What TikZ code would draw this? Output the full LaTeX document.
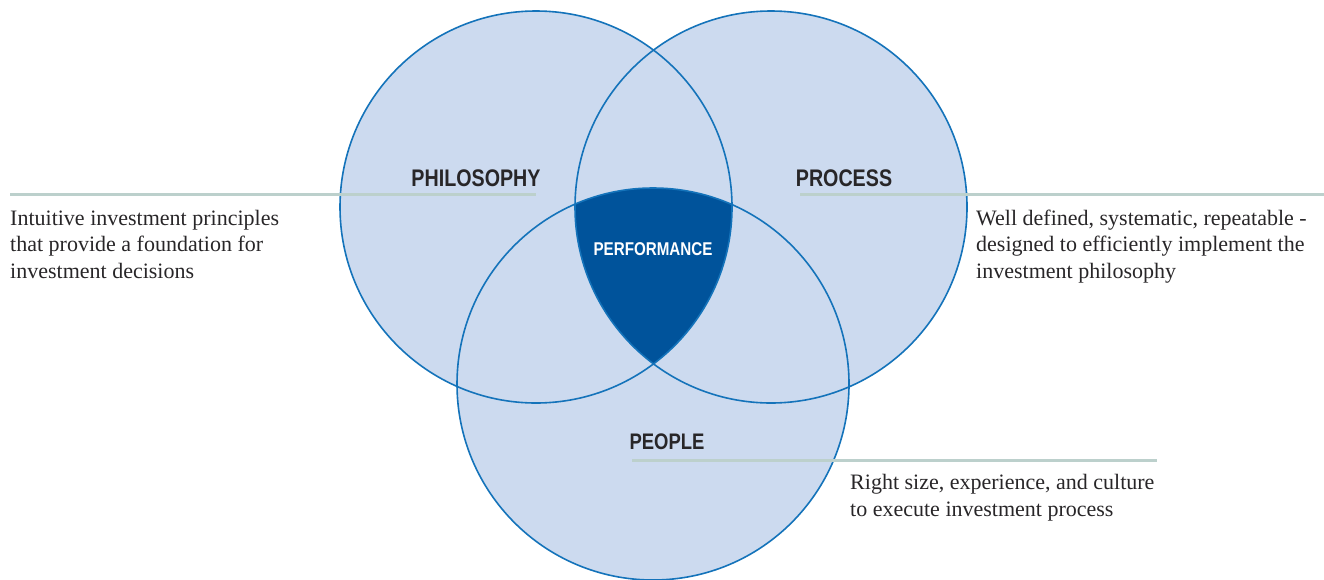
\documentclass[tikz,border=0pt]{standalone}
\usepackage{fontspec}
\setmainfont{Liberation Serif}
\newfontfamily\condfont[FakeStretch=0.82]{Liberation Sans}
\usetikzlibrary{positioning}
\definecolor{vennfill}{RGB}{204,218,239}
\definecolor{vennline}{RGB}{20,115,186}
\definecolor{perfblue}{RGB}{0,83,155}
\definecolor{rulegrey}{RGB}{188,208,204}
\definecolor{inkgrey}{RGB}{40,38,40}

\begin{document}
\begin{tikzpicture}[x=1pt,y=-1pt,
	venn/.style={circle, minimum size=392pt, inner sep=0pt, fill=vennfill},
	vennedge/.style={draw=vennline, line width=1.6pt},
	head/.style={font=\condfont\bfseries\fontsize{24}{24}\selectfont, text=inkgrey, inner sep=0pt, anchor=base},
	note/.style={font=\fontsize{22}{26.5}\selectfont, text=inkgrey, inner sep=0pt, align=left, anchor=base west},
	rule/.style={draw=rulegrey, line width=3pt}]
	\useasboundingbox (0,0) rectangle (1324,579);

	\node[venn] (philo) at (536,207) {};
	\node[venn] (proc) at (771,207) {};
	\node[venn] (people) at (653,384) {};
	\begin{scope}
		\clip (philo.center) circle[radius=196pt];
		\clip (proc.center) circle[radius=196pt];
		\fill[perfblue] (people.center) circle[radius=196pt];
	\end{scope}
	\foreach \c in {philo,proc,people}
		\draw[vennedge] (\c.center) circle[radius=196pt];

	\coordinate (philo-a) at (10,194);
	\coordinate (philo-b) at (536,194);
	\coordinate (proc-a) at (800,194);
	\coordinate (proc-b) at (1324,194);
	\coordinate (people-a) at (632,460);
	\coordinate (people-b) at (1157,460);
	\draw[rule] (philo-a) -- (philo-b);
	\draw[rule] (proc-a) -- (proc-b);
	\draw[rule] (people-a) -- (people-b);

	\node[head] (philo-t) at (476,186) {PHILOSOPHY};
	\node[head] (proc-t) at (844,186) {PROCESS};
	\node[head, font=\condfont\bfseries\fontsize{22.5}{22.5}\selectfont] (people-t) at (667,449) {PEOPLE};
	\node[head, text=white, font=\condfont\bfseries\fontsize{18.5}{18.5}\selectfont] (perf-t) at (653,255) {PERFORMANCE};

	\node[note] (philo-n) at (10,278) {Intuitive investment principles\\that provide a foundation for\\investment decisions};
	\node[note] (proc-n) at (976,278) {Well defined, systematic, repeatable -\\designed to efficiently implement the\\investment philosophy};
	\node[note] (people-n) at (850,516) {Right size, experience, and culture\\to execute investment process};
\end{tikzpicture}
\end{document}
